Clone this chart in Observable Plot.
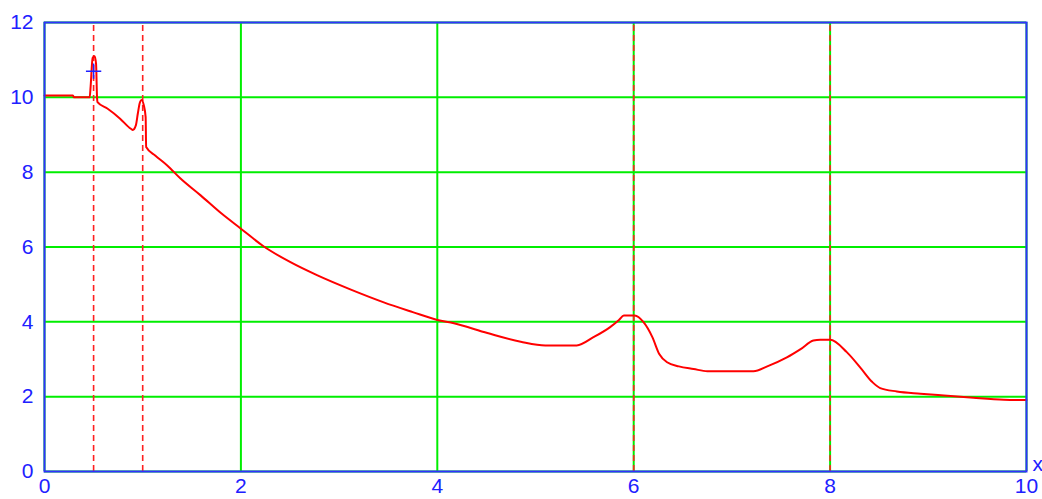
<!DOCTYPE html>
<html>
<head>
<meta charset="utf-8">
<script src="https://cdn.jsdelivr.net/npm/d3@7"></script>
<script src="https://cdn.jsdelivr.net/npm/@observablehq/plot@0.6"></script>
<style>
  html, body { margin: 0; padding: 0; background: #fff; }
  #chart svg { display: block; }
</style>
</head>
<body>
<div id="chart"></div>
<script>
// Curve samples
const curveX = [0, 0.29, 0.30, 0.46, 0.47, 0.49, 0.51, 0.525, 0.535, 0.54, 0.64, 0.77, 0.88, 0.90, 0.93, 0.95, 0.97, 0.99, 1.01, 1.03, 1.035, 1.13, 1.25, 1.385, 1.59, 1.8, 2.0, 2.23, 2.5, 2.78, 3.12, 3.455, 3.75, 4.0, 4.17, 4.51, 4.85, 5.1, 5.42, 5.59, 5.76, 5.85, 5.9, 6.01, 6.1, 6.19, 6.26, 6.34, 6.46, 6.61, 6.75, 7.22, 7.36, 7.56, 7.70, 7.83, 7.9, 8.0, 8.17, 8.31, 8.43, 8.51, 8.68, 8.92, 9.16, 9.46, 9.77, 10];
const curveY = [10.05, 10.05, 10.0, 10.0, 10.3, 11.05, 11.1, 10.9, 10.0, 9.87, 9.70, 9.43, 9.16, 9.13, 9.25, 9.56, 9.85, 9.93, 9.8, 9.47, 8.67, 8.44, 8.18, 7.83, 7.38, 6.9, 6.49, 6.02, 5.6, 5.24, 4.86, 4.52, 4.26, 4.05, 3.96, 3.70, 3.47, 3.37, 3.37, 3.59, 3.86, 4.05, 4.17, 4.17, 3.99, 3.59, 3.14, 2.92, 2.81, 2.74, 2.68, 2.68, 2.81, 3.05, 3.27, 3.50, 3.52, 3.52, 3.19, 2.77, 2.39, 2.23, 2.14, 2.08, 2.03, 1.97, 1.92, 1.91];
const markerLinesX = [0.5, 1, 6, 8];
const xTicks = [0, 2, 4, 6, 8, 10];
const yTicks = [0, 2, 4, 6, 8, 10, 12];
const markerPointX = [0.5];
const markerPointY = [10.7];
const xLabel = "x";

const curve = curveX.map((x, i) => ({x, y: curveY[i]}));
const markers = markerPointX.map((x, i) => ({x, y: markerPointY[i]}));

const chart = Plot.plot({
  width: 1042,
  height: 499,
  marginLeft: 44,
  marginRight: 16,
  marginTop: 22,
  marginBottom: 28,
  style: {fontFamily: "'Liberation Sans', Arial, sans-serif", fontSize: "21px", background: "#fff"},
  x: {domain: [0, 10], ticks: xTicks},
  y: {domain: [0, 12], ticks: yTicks},
  marks: [
    Plot.gridX(xTicks, {stroke: "#00ee00", strokeOpacity: 1, strokeWidth: 2}),
    Plot.gridY(yTicks, {stroke: "#00ee00", strokeOpacity: 1, strokeWidth: 2}),
    Plot.ruleX(markerLinesX, {y1: 0, y2: 12, stroke: "#ff2020", strokeWidth: 1.6, strokeDasharray: "6,4"}),
    Plot.line(curve, {x: "x", y: "y", stroke: "#ff0000", strokeWidth: 2, curve: "monotone-x"}),
    Plot.dot(markers, {x: "x", y: "y", symbol: "plus", r: 5, stroke: "#2020ff", strokeWidth: 1.5}),
    Plot.frame({stroke: "#3030ff", strokeWidth: 2}),
    Plot.axisY(yTicks, {tickSize: 0, tickPadding: 11, fontSize: 21, fill: "#2020ff", label: null}),
    Plot.axisX(xTicks, {tickSize: 0, tickPadding: 7, fontSize: 21, fill: "#2020ff", label: null}),
    Plot.text([xLabel], {frameAnchor: "bottom-right", dx: 6, dy: -1, fontSize: 21, fill: "#2020ff", textAnchor: "start", lineAnchor: "bottom"})
  ]
});
document.getElementById("chart").appendChild(chart);
</script>
</body>
</html>
